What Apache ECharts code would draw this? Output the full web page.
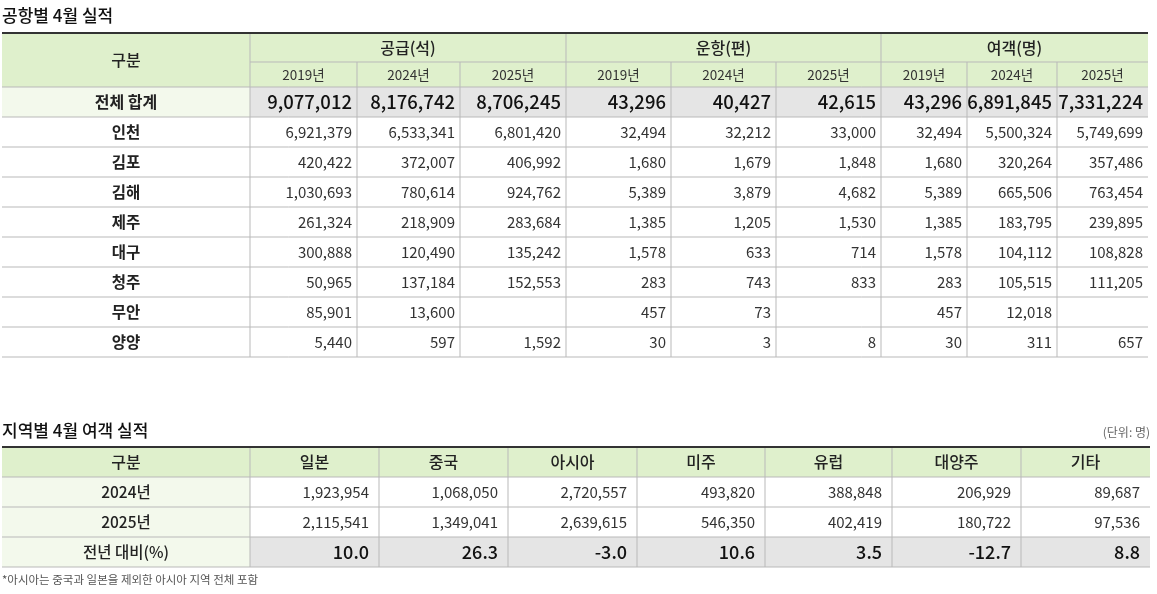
<!DOCTYPE html>
<html><head><meta charset="utf-8">
<script src="https://cdn.jsdelivr.net/npm/echarts@6/dist/echarts.min.js"></script>
<style>html,body{margin:0;padding:0;background:#fff}#c{width:1157px;height:594px}</style>
</head><body><div id="c"></div>
<script>
// ---- data ----
const title1 = '공항별 4월 실적';
const groups1 = ['공급(석)', '운항(편)', '여객(명)'];
const years1 = ['2019년', '2024년', '2025년'];
const airports = ['전체 합계', '인천', '김포', '김해', '제주', '대구', '청주', '무안', '양양'];
const supply2019 = ['9,077,012','6,921,379','420,422','1,030,693','261,324','300,888','50,965','85,901','5,440'];
const supply2024 = ['8,176,742','6,533,341','372,007','780,614','218,909','120,490','137,184','13,600','597'];
const supply2025 = ['8,706,245','6,801,420','406,992','924,762','283,684','135,242','152,553','','1,592'];
const flights2019 = ['43,296','32,494','1,680','5,389','1,385','1,578','283','457','30'];
const flights2024 = ['40,427','32,212','1,679','3,879','1,205','633','743','73','3'];
const flights2025 = ['42,615','33,000','1,848','4,682','1,530','714','833','','8'];
const pax2019 = ['43,296','32,494','1,680','5,389','1,385','1,578','283','457','30'];
const pax2024 = ['6,891,845','5,500,324','320,264','665,506','183,795','104,112','105,515','12,018','311'];
const pax2025 = ['7,331,224','5,749,699','357,486','763,454','239,895','108,828','111,205','','657'];

const title2 = '지역별 4월 여객 실적';
const unit2 = '(단위: 명)';
const regions = ['일본', '중국', '아시아', '미주', '유럽', '대양주', '기타'];
const rowLabels2 = ['2024년', '2025년', '전년 대비(%)'];
const region2024 = ['1,923,954','1,068,050','2,720,557','493,820','388,848','206,929','89,687'];
const region2025 = ['2,115,541','1,349,041','2,639,615','546,350','402,419','180,722','97,536'];
const regionYoY = ['10.0','26.3','-3.0','10.6','3.5','-12.7','8.8'];
const footnote = '*아시아는 중국과 일본을 제외한 아시아 지역 전체 포함';

// ---- layout ----
const F = '"Noto Sans CJK KR","Noto Sans",sans-serif';
const GREEN = '#dff0cc', LIGHT = '#f3f9ec', GRAY = '#e5e5e5', LINE = '#b9b9b9', TXT = '#222';
const els = [];
function rect(x,y,w,h,fill){els.push({type:'rect',shape:{x,y,width:w,height:h},style:{fill},silent:true});}
function line(x1,y1,x2,y2,c,w){els.push({type:'line',shape:{x1,y1,x2,y2},style:{stroke:c,lineWidth:w},silent:true});}
function text(s,x,y,align,size,weight,color){els.push({type:'text',x,y,style:{text:s,x:0,y:0,textAlign:align,textVerticalAlign:'middle',font:(weight||'normal')+' '+size+'px '+F,fill:color||TXT},silent:true});}

// table 1
const t1x = [2,250,357,460,566,671,776,881,967,1057,1148];
const t1Top = 33, hRow1 = 29, hRow2 = 25, rowH = 30;
const cols1 = [supply2019,supply2024,supply2025,flights2019,flights2024,flights2025,pax2019,pax2024,pax2025];
const bodyTop1 = t1Top + hRow1 + hRow2;
text(title1, 2, 16, 'left', 17, '500', '#111');
rect(t1x[0], t1Top, t1x[10]-t1x[0], hRow1+hRow2, GREEN);
rect(t1x[0], bodyTop1, t1x[1]-t1x[0], rowH, LIGHT);
rect(t1x[1], bodyTop1, t1x[10]-t1x[1], rowH, GRAY);
text('구분', (t1x[0]+t1x[1])/2, t1Top+(hRow1+hRow2)/2, 'center', 16, '500');
groups1.forEach((g,i)=>{
  const a=t1x[1+3*i], b=t1x[4+3*i];
  text(g,(a+b)/2,t1Top+hRow1/2,'center',16,'500');
  years1.forEach((y,j)=>text(y,(t1x[1+3*i+j]+t1x[2+3*i+j])/2,t1Top+hRow1+hRow2/2,'center',13.5,'normal','#333'));
});
airports.forEach((a,r)=>{
  const yc = bodyTop1 + r*rowH + rowH/2;
  const big = r===0;
  text(a,(t1x[0]+t1x[1])/2,yc,'center',big?16:15.5,'bold');
  cols1.forEach((col,c)=>{ if(col[r]) text(col[r], t1x[c+2]-5, yc, 'right', big?18.5:15, big?'500':'normal', big?'#111':'#333'); });
});
const bottom1 = bodyTop1 + airports.length*rowH;
// lines table 1
line(t1x[1],t1Top+hRow1,t1x[10],t1Top+hRow1,LINE,1);
line(t1x[0],bodyTop1,t1x[10],bodyTop1,LINE,1);
for(let r=1;r<=airports.length;r++) line(t1x[0],bodyTop1+r*rowH,t1x[10],bodyTop1+r*rowH,LINE,1);
[1,4,7].forEach(i=>line(t1x[i],t1Top,t1x[i],bottom1,LINE,1));
[2,3,5,6,8,9].forEach(i=>line(t1x[i],t1Top+hRow1,t1x[i],bottom1,LINE,1));
line(t1x[0],t1Top,t1x[10],t1Top,'#333',2);

// table 2
const t2x = [2,250,379,508,637,765,892,1021,1150];
const t2Top = 447, rowH2 = 30;
text(title2, 2, 431, 'left', 17, '500', '#111');
text(unit2, 1150, 432, 'right', 12, 'normal', '#666');
rect(t2x[0], t2Top, t2x[8]-t2x[0], rowH2, GREEN);
rect(t2x[0], t2Top+rowH2, t2x[1]-t2x[0], rowH2*2, LIGHT);
rect(t2x[0], t2Top+rowH2*3, t2x[1]-t2x[0], rowH2, LIGHT);
rect(t2x[1], t2Top+rowH2*3, t2x[8]-t2x[1], rowH2, GRAY);
text('구분',(t2x[0]+t2x[1])/2,t2Top+rowH2/2,'center',16,'500');
regions.forEach((g,i)=>text(g,(t2x[i+1]+t2x[i+2])/2,t2Top+rowH2/2,'center',16,'500'));
const rows2 = [region2024, region2025, regionYoY];
rowLabels2.forEach((lab,r)=>{
  const yc = t2Top + (r+1)*rowH2 + rowH2/2;
  const last = r===2;
  text(lab,(t2x[0]+t2x[1])/2,yc,'center',15.5,'500');
  rows2[r].forEach((v,c)=>text(v,t2x[c+2]-10,yc,'right',last?18:15,last?'500':'normal',last?'#111':'#333'));
});
const bottom2 = t2Top + 4*rowH2;
for(let r=1;r<=4;r++) line(t2x[0],t2Top+r*rowH2,t2x[8],t2Top+r*rowH2,LINE,1);
for(let i=1;i<8;i++) line(t2x[i],t2Top,t2x[i],bottom2,LINE,1);
line(t2x[0],t2Top,t2x[8],t2Top,'#333',2);
text(footnote, 2, 580, 'left', 11.5, 'normal', '#555');

const chart = echarts.init(document.getElementById('c'));
chart.setOption({animation:false, graphic:{elements:els}});
</script></body></html>
